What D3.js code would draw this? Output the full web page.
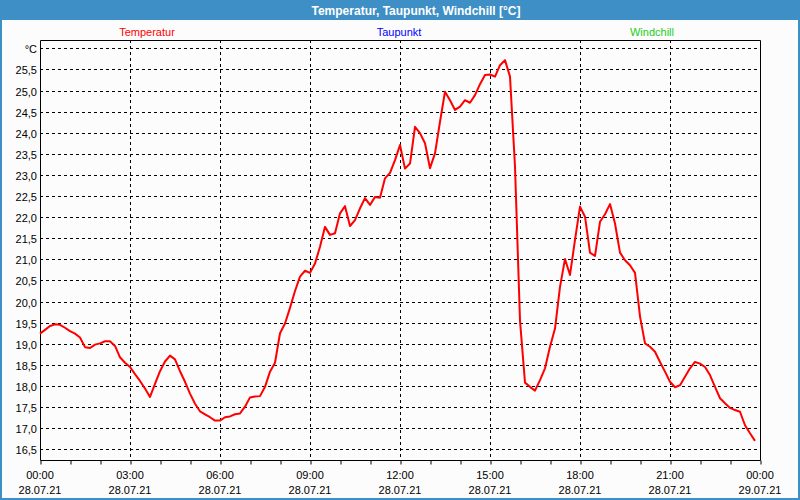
<!DOCTYPE html>
<html><head><meta charset="utf-8">
<script src="https://cdn.jsdelivr.net/npm/d3@7"></script>
<style>html,body{margin:0;padding:0;background:#fff}svg{display:block}</style>
</head><body>
<svg id="c" width="800" height="500"></svg>
<script>
const title = "Temperatur, Taupunkt, Windchill [°C]";
const legendNames = ["Temperatur", "Taupunkt", "Windchill"];
const legendColors = ["#ff0000", "#0000ff", "#22cc22"];
const yTicks = [16.5,17,17.5,18,18.5,19,19.5,20,20.5,21,21.5,22,22.5,23,23.5,24,24.5,25,25.5,26];
const xTickHours = [0,3,6,9,12,15,18,21,24];
const xTickTimes = ["00:00","03:00","06:00","09:00","12:00","15:00","18:00","21:00","00:00"];
const xTickDates = ["28.07.21","28.07.21","28.07.21","28.07.21","28.07.21","28.07.21","28.07.21","28.07.21","29.07.21"];
// minutes since 28.07.21 00:00
const minutes = [0,10,20,30,40,50,60,70,80,90,100,110,120,130,140,150,160,170,180,190,200,210,220,230,240,250,260,270,280,290,300,310,320,330,340,350,360,370,380,390,400,410,420,430,440,450,460,470,480,490,500,510,520,530,540,550,560,570,580,590,600,610,620,630,640,650,660,670,680,690,700,710,720,730,740,750,760,770,780,790,800,810,820,830,840,850,860,870,880,890,900,910,920,930,940,950,960,970,980,990,1000,1010,1020,1030,1040,1050,1060,1070,1080,1090,1100,1110,1120,1130,1140,1150,1160,1170,1180,1190,1200,1210,1220,1230,1240,1250,1260,1270,1280,1290,1300,1310,1320,1330,1340,1350,1360,1370,1380,1390,1400,1410,1420,1430];
const temperatur = [19.24,19.33,19.42,19.46,19.45,19.38,19.30,19.24,19.15,18.92,18.90,18.98,19.01,19.06,19.06,18.95,18.68,18.55,18.45,18.28,18.12,17.94,17.74,18.05,18.35,18.58,18.72,18.63,18.35,18.10,17.82,17.58,17.40,17.33,17.26,17.18,17.18,17.26,17.28,17.33,17.35,17.51,17.73,17.75,17.76,17.98,18.34,18.55,19.25,19.48,19.85,20.25,20.59,20.73,20.68,20.90,21.30,21.77,21.58,21.62,22.09,22.26,21.79,21.93,22.21,22.45,22.29,22.48,22.46,22.92,23.05,23.35,23.71,23.15,23.27,24.14,23.99,23.75,23.16,23.51,24.26,24.97,24.77,24.54,24.62,24.77,24.71,24.89,25.15,25.37,25.38,25.33,25.60,25.72,25.33,23.20,19.55,18.08,17.98,17.89,18.14,18.42,18.93,19.36,20.35,21.01,20.63,21.46,22.25,22.01,21.16,21.08,21.89,22.07,22.31,21.85,21.16,20.98,20.86,20.68,19.65,19.01,18.93,18.81,18.57,18.34,18.10,17.97,18.02,18.22,18.42,18.57,18.53,18.45,18.26,17.98,17.71,17.59,17.48,17.43,17.39,17.07,16.88,16.70];

const svg = d3.select("#c");
const W = 800, H = 500;
const L = 40, R = 760, T = 40, B = 460;
const blue = "#3d8fc5";
const font = "'Liberation Sans', Arial, sans-serif";

svg.append("rect").attr("width", W).attr("height", H).attr("fill", "#fcfcfc");
svg.append("rect").attr("x", 1).attr("y", 1).attr("width", W - 2).attr("height", H - 2)
  .attr("fill", "none").attr("stroke", blue).attr("stroke-width", 2);
svg.append("rect").attr("x", 0).attr("y", 0).attr("width", W).attr("height", 20).attr("fill", blue);
svg.append("text").attr("x", 416).attr("y", 14.5).attr("text-anchor", "middle")
  .attr("fill", "#fff").attr("font-family", font).attr("font-weight", "bold").attr("font-size", 12)
  .attr("textLength", 209).attr("lengthAdjust", "spacingAndGlyphs").text(title);

const legendX = [147, 399, 652];
legendNames.forEach((n, i) => {
  svg.append("text").attr("x", legendX[i]).attr("y", 36).attr("text-anchor", "middle")
    .attr("fill", legendColors[i]).attr("font-family", font).attr("font-size", 11).text(n);
});

const x = d3.scaleLinear().domain([0, 24]).range([L, R]);
const y = d3.scaleLinear().domain([16.235, 26.185]).range([B + 0.5, T + 0.5]);

// grid
const g = svg.append("g");
yTicks.forEach(v => {
  const yy = Math.round(y(v)) + 0.5;
  g.append("line").attr("x1", L).attr("x2", R).attr("y1", yy).attr("y2", yy)
    .attr("stroke", "#000").attr("stroke-dasharray", "3,3");
});
xTickHours.slice(1, -1).forEach(h => {
  const xx = Math.round(x(h)) + 0.5;
  g.append("line").attr("x1", xx).attr("x2", xx).attr("y1", T).attr("y2", B)
    .attr("stroke", "#000").attr("stroke-dasharray", "3,3");
});

// y labels
yTicks.forEach(v => {
  const lbl = v === 26 ? "°C" : d3.format(".1f")(v).replace(".", ",");
  svg.append("text").attr("x", 37).attr("y", Math.round(y(v)) + 4.5).attr("text-anchor", "end")
    .attr("fill", "#000").attr("font-family", font).attr("font-size", 11).text(lbl);
});

// x axis ticks (hourly)
const xAxis = d3.axisBottom(x).tickValues(d3.range(0, 25, 1)).tickSize(4).tickFormat("");
const ax = svg.append("g").attr("transform", `translate(0.5,${B + 0.5})`).call(xAxis);
ax.select(".domain").remove();
ax.selectAll("line").attr("stroke", "#000");

xTickHours.forEach((h, i) => {
  svg.append("text").attr("x", x(h)).attr("y", 479).attr("text-anchor", "middle")
    .attr("fill", "#000").attr("font-family", font).attr("font-size", 11).text(xTickTimes[i]);
  svg.append("text").attr("x", x(h)).attr("y", 494).attr("text-anchor", "middle")
    .attr("fill", "#000").attr("font-family", font).attr("font-size", 11).text(xTickDates[i]);
});

// frame
svg.append("path").attr("d", `M${L + 0.5},${B + 0.5}V${T + 0.5}H${R + 0.5}V${B + 0.5}H${L + 0.5}`)
  .attr("fill", "none").attr("stroke", "#000").attr("stroke-width", 1);

// line
const data = minutes.map((m, i) => ({ h: m / 60, v: temperatur[i] }));
svg.append("path").datum(data)
  .attr("d", d3.line().x(d => x(d.h)).y(d => y(d.v)))
  .attr("fill", "none").attr("stroke", "#ff0000").attr("stroke-width", 2)
  .attr("stroke-linejoin", "round");
</script>
</body></html>
